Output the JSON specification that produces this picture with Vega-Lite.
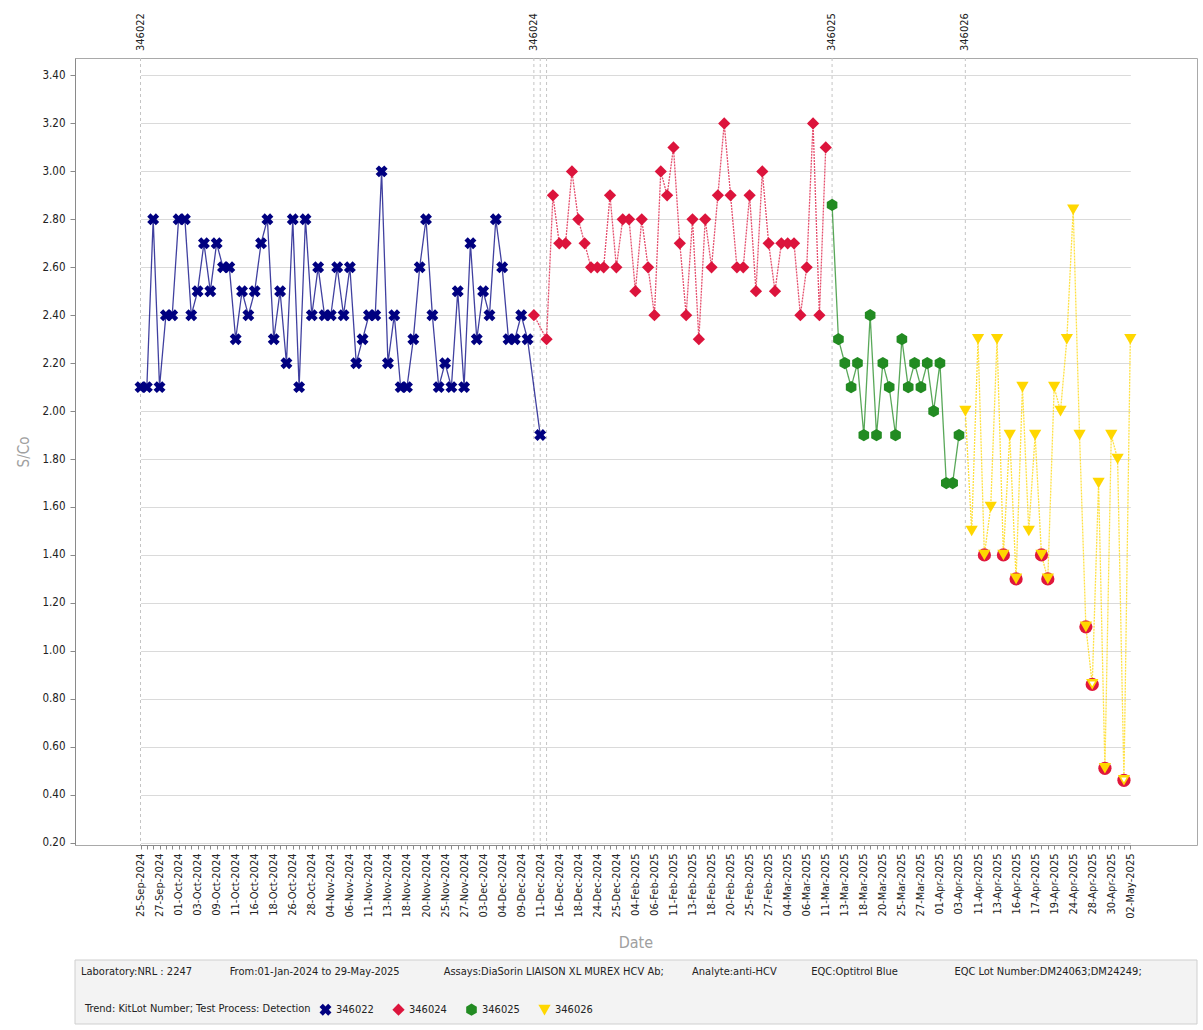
{
  "$schema": "https://vega.github.io/schema/vega-lite/v6.json",
  "background": "white",
  "padding": {"left": 16, "top": 12, "right": 5, "bottom": 5},
  "columns": 1,
  "spacing": 8,
  "config": {
    "font": "DejaVu Sans Condensed",
    "view": {"stroke": null},
    "axis": {
      "labelFont": "DejaVu Sans Condensed",
      "titleFont": "DejaVu Sans Condensed",
      "domainColor": "#8a8a8a",
      "tickColor": "#8a8a8a",
      "labelColor": "#222222",
      "titleColor": "#a0a0a0",
      "titleFontWeight": "normal"
    },
    "legend": {
      "orient": "none",
      "legendX": 10,
      "legendY": 945,
      "direction": "horizontal",
      "titleOrient": "left",
      "titleFontWeight": "normal",
      "titleFontSize": 11,
      "titleColor": "#222222",
      "titlePadding": 8,
      "titleLimit": 600,
      "labelFontSize": 11,
      "labelColor": "#222222",
      "labelFont": "DejaVu Sans Condensed",
      "titleFont": "DejaVu Sans Condensed",
      "symbolSize": 150,
      "symbolStrokeWidth": 0,
      "symbolOpacity": 1,
      "labelOffset": 4,
      "columnPadding": 18,
      "padding": 0
    },
    "title": {"font": "DejaVu Sans Condensed"}
  },
  "datasets": {
    "pts": [
      {"obs": "001 25-Sep-2024", "lot": "346022", "sco": 2.1},
      {"obs": "002 25-Sep-2024", "lot": "346022", "sco": 2.1},
      {"obs": "003 26-Sep-2024", "lot": "346022", "sco": 2.8},
      {"obs": "004 27-Sep-2024", "lot": "346022", "sco": 2.1},
      {"obs": "005 27-Sep-2024", "lot": "346022", "sco": 2.4},
      {"obs": "006 30-Sep-2024", "lot": "346022", "sco": 2.4},
      {"obs": "007 01-Oct-2024", "lot": "346022", "sco": 2.8},
      {"obs": "008 01-Oct-2024", "lot": "346022", "sco": 2.8},
      {"obs": "009 02-Oct-2024", "lot": "346022", "sco": 2.4},
      {"obs": "010 03-Oct-2024", "lot": "346022", "sco": 2.5},
      {"obs": "011 04-Oct-2024", "lot": "346022", "sco": 2.7},
      {"obs": "012 07-Oct-2024", "lot": "346022", "sco": 2.5},
      {"obs": "013 09-Oct-2024", "lot": "346022", "sco": 2.7},
      {"obs": "014 09-Oct-2024", "lot": "346022", "sco": 2.6},
      {"obs": "015 10-Oct-2024", "lot": "346022", "sco": 2.6},
      {"obs": "016 11-Oct-2024", "lot": "346022", "sco": 2.3},
      {"obs": "017 14-Oct-2024", "lot": "346022", "sco": 2.5},
      {"obs": "018 15-Oct-2024", "lot": "346022", "sco": 2.4},
      {"obs": "019 16-Oct-2024", "lot": "346022", "sco": 2.5},
      {"obs": "020 16-Oct-2024", "lot": "346022", "sco": 2.7},
      {"obs": "021 17-Oct-2024", "lot": "346022", "sco": 2.8},
      {"obs": "022 18-Oct-2024", "lot": "346022", "sco": 2.3},
      {"obs": "023 21-Oct-2024", "lot": "346022", "sco": 2.5},
      {"obs": "024 23-Oct-2024", "lot": "346022", "sco": 2.2},
      {"obs": "025 26-Oct-2024", "lot": "346022", "sco": 2.8},
      {"obs": "026 26-Oct-2024", "lot": "346022", "sco": 2.1},
      {"obs": "027 27-Oct-2024", "lot": "346022", "sco": 2.8},
      {"obs": "028 28-Oct-2024", "lot": "346022", "sco": 2.4},
      {"obs": "029 29-Oct-2024", "lot": "346022", "sco": 2.6},
      {"obs": "030 31-Oct-2024", "lot": "346022", "sco": 2.4},
      {"obs": "031 04-Nov-2024", "lot": "346022", "sco": 2.4},
      {"obs": "032 04-Nov-2024", "lot": "346022", "sco": 2.6},
      {"obs": "033 05-Nov-2024", "lot": "346022", "sco": 2.4},
      {"obs": "034 06-Nov-2024", "lot": "346022", "sco": 2.6},
      {"obs": "035 07-Nov-2024", "lot": "346022", "sco": 2.2},
      {"obs": "036 08-Nov-2024", "lot": "346022", "sco": 2.3},
      {"obs": "037 11-Nov-2024", "lot": "346022", "sco": 2.4},
      {"obs": "038 11-Nov-2024", "lot": "346022", "sco": 2.4},
      {"obs": "039 12-Nov-2024", "lot": "346022", "sco": 3.0},
      {"obs": "040 13-Nov-2024", "lot": "346022", "sco": 2.2},
      {"obs": "041 14-Nov-2024", "lot": "346022", "sco": 2.4},
      {"obs": "042 15-Nov-2024", "lot": "346022", "sco": 2.1},
      {"obs": "043 18-Nov-2024", "lot": "346022", "sco": 2.1},
      {"obs": "044 18-Nov-2024", "lot": "346022", "sco": 2.3},
      {"obs": "045 19-Nov-2024", "lot": "346022", "sco": 2.6},
      {"obs": "046 20-Nov-2024", "lot": "346022", "sco": 2.8},
      {"obs": "047 21-Nov-2024", "lot": "346022", "sco": 2.4},
      {"obs": "048 22-Nov-2024", "lot": "346022", "sco": 2.1},
      {"obs": "049 25-Nov-2024", "lot": "346022", "sco": 2.2},
      {"obs": "050 25-Nov-2024", "lot": "346022", "sco": 2.1},
      {"obs": "051 26-Nov-2024", "lot": "346022", "sco": 2.5},
      {"obs": "052 27-Nov-2024", "lot": "346022", "sco": 2.1},
      {"obs": "053 28-Nov-2024", "lot": "346022", "sco": 2.7},
      {"obs": "054 02-Dec-2024", "lot": "346022", "sco": 2.3},
      {"obs": "055 03-Dec-2024", "lot": "346022", "sco": 2.5},
      {"obs": "056 03-Dec-2024", "lot": "346022", "sco": 2.4},
      {"obs": "057 03-Dec-2024", "lot": "346022", "sco": 2.8},
      {"obs": "058 04-Dec-2024", "lot": "346022", "sco": 2.6},
      {"obs": "059 05-Dec-2024", "lot": "346022", "sco": 2.3},
      {"obs": "060 06-Dec-2024", "lot": "346022", "sco": 2.3},
      {"obs": "061 09-Dec-2024", "lot": "346022", "sco": 2.4},
      {"obs": "062 10-Dec-2024", "lot": "346022", "sco": 2.3},
      {"obs": "063 10-Dec-2024", "lot": "346024", "sco": 2.4},
      {"obs": "064 11-Dec-2024", "lot": "346022", "sco": 1.9},
      {"obs": "065 12-Dec-2024", "lot": "346024", "sco": 2.3},
      {"obs": "066 13-Dec-2024", "lot": "346024", "sco": 2.9},
      {"obs": "067 16-Dec-2024", "lot": "346024", "sco": 2.7},
      {"obs": "068 16-Dec-2024", "lot": "346024", "sco": 2.7},
      {"obs": "069 17-Dec-2024", "lot": "346024", "sco": 3.0},
      {"obs": "070 18-Dec-2024", "lot": "346024", "sco": 2.8},
      {"obs": "071 19-Dec-2024", "lot": "346024", "sco": 2.7},
      {"obs": "072 20-Dec-2024", "lot": "346024", "sco": 2.6},
      {"obs": "073 24-Dec-2024", "lot": "346024", "sco": 2.6},
      {"obs": "074 24-Dec-2024", "lot": "346024", "sco": 2.6},
      {"obs": "075 25-Dec-2024", "lot": "346024", "sco": 2.9},
      {"obs": "076 25-Dec-2024", "lot": "346024", "sco": 2.6},
      {"obs": "077 30-Jan-2025", "lot": "346024", "sco": 2.8},
      {"obs": "078 03-Feb-2025", "lot": "346024", "sco": 2.8},
      {"obs": "079 04-Feb-2025", "lot": "346024", "sco": 2.5},
      {"obs": "080 04-Feb-2025", "lot": "346024", "sco": 2.8},
      {"obs": "081 05-Feb-2025", "lot": "346024", "sco": 2.6},
      {"obs": "082 06-Feb-2025", "lot": "346024", "sco": 2.4},
      {"obs": "083 07-Feb-2025", "lot": "346024", "sco": 3.0},
      {"obs": "084 10-Feb-2025", "lot": "346024", "sco": 2.9},
      {"obs": "085 11-Feb-2025", "lot": "346024", "sco": 3.1},
      {"obs": "086 11-Feb-2025", "lot": "346024", "sco": 2.7},
      {"obs": "087 12-Feb-2025", "lot": "346024", "sco": 2.4},
      {"obs": "088 13-Feb-2025", "lot": "346024", "sco": 2.8},
      {"obs": "089 14-Feb-2025", "lot": "346024", "sco": 2.3},
      {"obs": "090 17-Feb-2025", "lot": "346024", "sco": 2.8},
      {"obs": "091 18-Feb-2025", "lot": "346024", "sco": 2.6},
      {"obs": "092 18-Feb-2025", "lot": "346024", "sco": 2.9},
      {"obs": "093 19-Feb-2025", "lot": "346024", "sco": 3.2},
      {"obs": "094 20-Feb-2025", "lot": "346024", "sco": 2.9},
      {"obs": "095 21-Feb-2025", "lot": "346024", "sco": 2.6},
      {"obs": "096 24-Feb-2025", "lot": "346024", "sco": 2.6},
      {"obs": "097 25-Feb-2025", "lot": "346024", "sco": 2.9},
      {"obs": "098 25-Feb-2025", "lot": "346024", "sco": 2.5},
      {"obs": "099 26-Feb-2025", "lot": "346024", "sco": 3.0},
      {"obs": "100 27-Feb-2025", "lot": "346024", "sco": 2.7},
      {"obs": "101 28-Feb-2025", "lot": "346024", "sco": 2.5},
      {"obs": "102 03-Mar-2025", "lot": "346024", "sco": 2.7},
      {"obs": "103 04-Mar-2025", "lot": "346024", "sco": 2.7},
      {"obs": "104 04-Mar-2025", "lot": "346024", "sco": 2.7},
      {"obs": "105 05-Mar-2025", "lot": "346024", "sco": 2.4},
      {"obs": "106 06-Mar-2025", "lot": "346024", "sco": 2.6},
      {"obs": "107 07-Mar-2025", "lot": "346024", "sco": 3.2},
      {"obs": "108 10-Mar-2025", "lot": "346024", "sco": 2.4},
      {"obs": "109 11-Mar-2025", "lot": "346024", "sco": 3.1},
      {"obs": "110 11-Mar-2025", "lot": "346025", "sco": 2.86},
      {"obs": "111 12-Mar-2025", "lot": "346025", "sco": 2.3},
      {"obs": "112 13-Mar-2025", "lot": "346025", "sco": 2.2},
      {"obs": "113 14-Mar-2025", "lot": "346025", "sco": 2.1},
      {"obs": "114 17-Mar-2025", "lot": "346025", "sco": 2.2},
      {"obs": "115 18-Mar-2025", "lot": "346025", "sco": 1.9},
      {"obs": "116 18-Mar-2025", "lot": "346025", "sco": 2.4},
      {"obs": "117 19-Mar-2025", "lot": "346025", "sco": 1.9},
      {"obs": "118 20-Mar-2025", "lot": "346025", "sco": 2.2},
      {"obs": "119 21-Mar-2025", "lot": "346025", "sco": 2.1},
      {"obs": "120 24-Mar-2025", "lot": "346025", "sco": 1.9},
      {"obs": "121 25-Mar-2025", "lot": "346025", "sco": 2.3},
      {"obs": "122 25-Mar-2025", "lot": "346025", "sco": 2.1},
      {"obs": "123 26-Mar-2025", "lot": "346025", "sco": 2.2},
      {"obs": "124 27-Mar-2025", "lot": "346025", "sco": 2.1},
      {"obs": "125 28-Mar-2025", "lot": "346025", "sco": 2.2},
      {"obs": "126 31-Mar-2025", "lot": "346025", "sco": 2.0},
      {"obs": "127 01-Apr-2025", "lot": "346025", "sco": 2.2},
      {"obs": "128 01-Apr-2025", "lot": "346025", "sco": 1.7},
      {"obs": "129 02-Apr-2025", "lot": "346025", "sco": 1.7},
      {"obs": "130 03-Apr-2025", "lot": "346025", "sco": 1.9},
      {"obs": "131 04-Apr-2025", "lot": "346026", "sco": 2.0},
      {"obs": "132 08-Apr-2025", "lot": "346026", "sco": 1.5},
      {"obs": "133 11-Apr-2025", "lot": "346026", "sco": 2.3},
      {"obs": "134 11-Apr-2025", "lot": "346026", "sco": 1.4, "flag": "out"},
      {"obs": "135 12-Apr-2025", "lot": "346026", "sco": 1.6},
      {"obs": "136 13-Apr-2025", "lot": "346026", "sco": 2.3},
      {"obs": "137 14-Apr-2025", "lot": "346026", "sco": 1.4, "flag": "out"},
      {"obs": "138 15-Apr-2025", "lot": "346026", "sco": 1.9},
      {"obs": "139 16-Apr-2025", "lot": "346026", "sco": 1.3, "flag": "out"},
      {"obs": "140 16-Apr-2025", "lot": "346026", "sco": 2.1},
      {"obs": "141 17-Apr-2025", "lot": "346026", "sco": 1.5},
      {"obs": "142 17-Apr-2025", "lot": "346026", "sco": 1.9},
      {"obs": "143 18-Apr-2025", "lot": "346026", "sco": 1.4, "flag": "out"},
      {"obs": "144 18-Apr-2025", "lot": "346026", "sco": 1.3, "flag": "out"},
      {"obs": "145 19-Apr-2025", "lot": "346026", "sco": 2.1},
      {"obs": "146 22-Apr-2025", "lot": "346026", "sco": 2.0},
      {"obs": "147 23-Apr-2025", "lot": "346026", "sco": 2.3},
      {"obs": "148 24-Apr-2025", "lot": "346026", "sco": 2.84},
      {"obs": "149 25-Apr-2025", "lot": "346026", "sco": 1.9},
      {"obs": "150 26-Apr-2025", "lot": "346026", "sco": 1.1, "flag": "out"},
      {"obs": "151 28-Apr-2025", "lot": "346026", "sco": 0.86, "flag": "outw"},
      {"obs": "152 29-Apr-2025", "lot": "346026", "sco": 1.7},
      {"obs": "153 29-Apr-2025", "lot": "346026", "sco": 0.51, "flag": "out"},
      {"obs": "154 30-Apr-2025", "lot": "346026", "sco": 1.9},
      {"obs": "155 01-May-2025", "lot": "346026", "sco": 1.8},
      {"obs": "156 01-May-2025", "lot": "346026", "sco": 0.46, "flag": "outw"},
      {"obs": "157 02-May-2025", "lot": "346026", "sco": 2.3}
    ],
    "changes": [
      {"obs": "001 25-Sep-2024", "lot": "346022", "show": 1},
      {"obs": "063 10-Dec-2024", "lot": "346024", "show": 1},
      {"obs": "064 11-Dec-2024", "lot": "346022", "show": 0},
      {"obs": "065 12-Dec-2024", "lot": "346024", "show": 0},
      {"obs": "110 11-Mar-2025", "lot": "346025", "show": 1},
      {"obs": "131 04-Apr-2025", "lot": "346026", "show": 1}
    ],
    "info": [{"panel": "info"}]
  },
  "concat": [
    {
      "width": 1122,
      "height": 787,
      "view": {"stroke": "#a9a9a9"},
      "encoding": {
        "x": {
          "field": "obs",
          "type": "ordinal",
          "scale": {"type": "point", "padding": 0, "range": [65.5, 1055.3]},
          "axis": {
            "title": "Date",
            "titleFontSize": 16,
            "titlePadding": 16,
            "labelAngle": 270,
            "labelFontSize": 11,
            "labelPadding": 4,
            "tickSize": 4,
            "labelOverlap": false,
            "labelExpr": "(toNumber(slice(datum.value,0,3)) - 1) % 3 == 0 ? slice(datum.value,4) : ''"
          }
        }
      },
      "layer": [
        {
          "data": {"name": "changes"},
          "mark": {"type": "rule", "color": "#c4c4c4", "strokeDash": [3, 3], "strokeWidth": 1},
          "encoding": {"x": {"field": "obs", "type": "ordinal"}}
        },
        {
          "data": {"name": "pts"},
          "mark": {"type": "line", "strokeWidth": 1.3, "opacity": 0.75},
          "encoding": {
            "y": {
              "field": "sco",
              "type": "quantitative",
              "scale": {"domain": [0.19, 3.473], "nice": false, "zero": false},
              "axis": {
                "title": "S/Co",
                "titleFontSize": 15,
                "titlePadding": 10,
                "values": [0.2, 0.4, 0.6, 0.8, 1.0, 1.2, 1.4, 1.6, 1.8, 2.0, 2.2, 2.4, 2.6, 2.8, 3.0, 3.2, 3.4],
                "format": ".2f",
                "labelFontSize": 11.5,
                "labelPadding": 5,
                "tickSize": 5,
                "gridColor": "#dadada",
                "grid": true
              }
            },
            "color": {
              "field": "lot",
              "type": "nominal",
              "scale": {"domain": ["346022", "346024", "346025", "346026"], "range": ["#000080", "#dc143c", "#228b22", "#ffd700"]},
              "legend": {"title": "Trend: KitLot Number; Test Process: Detection"}
            },
            "strokeDash": {
              "field": "lot",
              "type": "nominal",
              "scale": {"domain": ["346022", "346024", "346025", "346026"], "range": [[1, 0], [2, 1], [1, 0], [2, 1]]},
              "legend": null
            }
          }
        },
        {
          "data": {"name": "pts"},
          "transform": [{"filter": "datum.flag"}],
          "mark": {"type": "point", "shape": "circle", "filled": true, "color": "#e0173c", "size": 175, "opacity": 1},
          "encoding": {"y": {"field": "sco", "type": "quantitative"}}
        },
        {
          "data": {"name": "pts"},
          "mark": {"type": "point", "filled": true, "opacity": 1, "size": 150},
          "encoding": {
            "y": {"field": "sco", "type": "quantitative"},
            "color": {"field": "lot", "type": "nominal", "legend": {"title": "Trend: KitLot Number; Test Process: Detection"}},
            "shape": {
              "field": "lot",
              "type": "nominal",
              "legend": {"title": "Trend: KitLot Number; Test Process: Detection"},
              "scale": {
                "domain": ["346022", "346024", "346025", "346026"],
                "range": [
                  "M-0.438,-0.976L0,-0.537L0.438,-0.976L0.976,-0.438L0.537,0L0.976,0.438L0.438,0.976L0,0.537L-0.438,0.976L-0.976,0.438L-0.537,0L-0.976,-0.438Z",
                  "diamond",
                  "M0,-1L0.866,-0.5L0.866,0.5L0,1L-0.866,0.5L-0.866,-0.5Z",
                  "triangle-down"
                ]
              }
            }
          }
        },
        {
          "data": {"name": "pts"},
          "transform": [{"filter": "datum.flag == 'outw'"}],
          "mark": {"type": "point", "shape": "triangle-down", "filled": true, "color": "white", "size": 30, "opacity": 1, "yOffset": -0.5},
          "encoding": {"y": {"field": "sco", "type": "quantitative"}}
        },
        {
          "data": {"name": "changes"},
          "transform": [{"filter": "datum.show == 1"}],
          "mark": {"type": "text", "angle": 270, "align": "left", "baseline": "middle", "dx": 7, "fontSize": 11, "color": "#222222"},
          "encoding": {
            "x": {"field": "obs", "type": "ordinal"},
            "y": {"datum": 3.473, "type": "quantitative"},
            "text": {"field": "lot"}
          }
        }
      ]
    },
    {
      "width": 1122,
      "height": 64,
      "data": {"name": "info"},
      "title": {
        "text": "Laboratory:NRL : 2247\u00a0\u00a0\u00a0\u00a0\u00a0\u00a0\u00a0\u00a0\u00a0\u00a0\u00a0\u00a0From:01-Jan-2024 to 29-May-2025\u00a0\u00a0\u00a0\u00a0\u00a0\u00a0\u00a0\u00a0\u00a0\u00a0\u00a0\u00a0\u00a0\u00a0Assays:DiaSorin LIAISON XL MUREX HCV Ab;\u00a0\u00a0\u00a0\u00a0\u00a0\u00a0\u00a0\u00a0\u00a0Analyte:anti-HCV\u00a0\u00a0\u00a0\u00a0\u00a0\u00a0\u00a0\u00a0\u00a0\u00a0\u00a0EQC:Optitrol Blue\u00a0\u00a0\u00a0\u00a0\u00a0\u00a0\u00a0\u00a0\u00a0\u00a0\u00a0\u00a0\u00a0\u00a0\u00a0\u00a0\u00a0\u00a0EQC Lot Number:DM24063;DM24249;",
        "orient": "top",
        "anchor": "start",
        "frame": "group",
        "offset": -17,
        "dx": 6,
        "fontSize": 11,
        "fontWeight": "normal",
        "color": "#222222"
      },
      "mark": {"type": "rect", "fill": "#f3f3f3", "stroke": "#cfcfcf", "strokeWidth": 1},
      "encoding": {}
    }
  ]
}
